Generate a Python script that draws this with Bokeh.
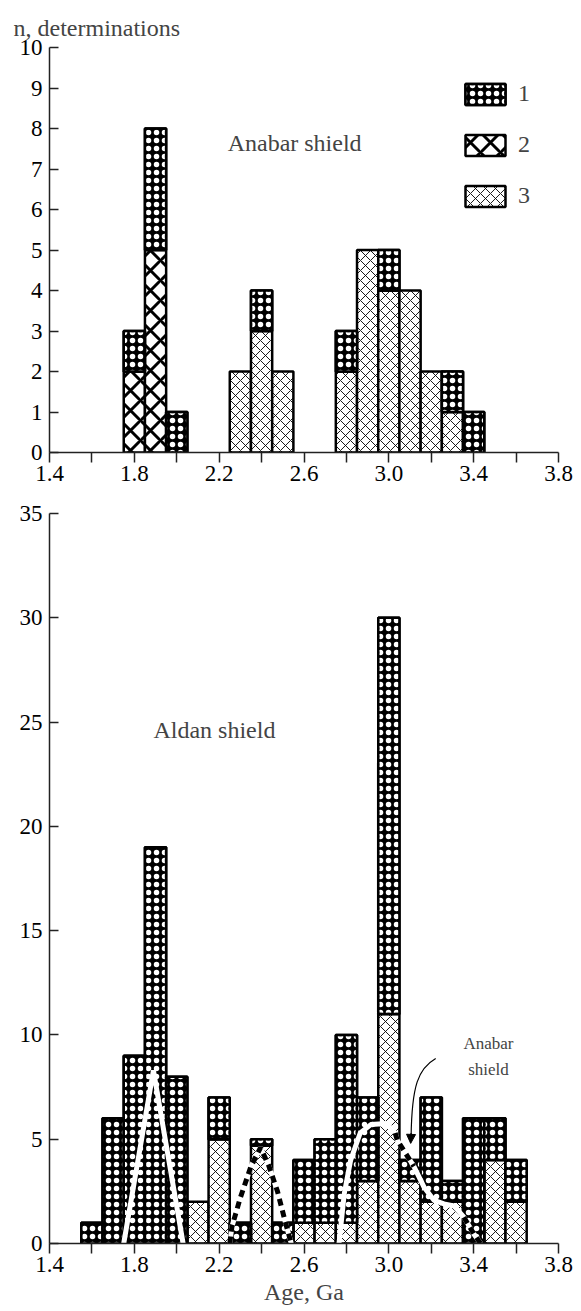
import numpy as np
from bokeh.plotting import figure
from bokeh.layouts import column
from bokeh.models import (Range1d, FixedTicker, PrintfTickFormatter, Label, Title,
                          Legend, LegendItem, Arrow, NormalHead)
from bokeh.embed import file_html
from bokeh.resources import INLINE

FONT = "Liberation Serif"
FS = "23px"

# ---------------- data ----------------
# Anabar shield (top panel)
anabar_age = [1.8, 1.9, 2.0, 2.3, 2.4, 2.5, 2.8, 2.9, 3.0, 3.1, 3.2, 3.3, 3.4]
anabar_t2 = [2, 5, 0, 0, 0, 0, 0, 0, 0, 0, 0, 0, 0]
anabar_t3 = [0, 0, 0, 2, 3, 2, 2, 5, 4, 4, 2, 1, 0]
anabar_t1 = [1, 3, 1, 0, 1, 0, 1, 0, 1, 0, 0, 1, 1]

# Aldan shield (bottom panel)
aldan_age = [1.6, 1.7, 1.8, 1.9, 2.0, 2.1, 2.2, 2.3, 2.4, 2.5, 2.6,
             2.7, 2.8, 2.9, 3.0, 3.1, 3.2, 3.3, 3.4, 3.5, 3.6]
aldan_t3 = [0, 0, 0, 0, 0, 2, 5, 0, 4.7, 0, 1, 1, 1, 3, 11, 3, 2, 2, 0, 4, 2]
aldan_t1 = [1, 6, 9, 19, 8, 0, 2, 1, 0.3, 1, 3, 4, 9, 4, 19, 1, 5, 1, 6, 2, 2]

# Anabar envelope curves drawn over the Aldan histogram
curve1_age = [1.75, 1.89, 2.03]
curve1_n = [0, 8.3, 0]
curve2_age = [2.25, 2.26, 2.30, 2.35, 2.395, 2.435, 2.475, 2.51, 2.54]
curve2_n = [0, 0.8, 2.2, 3.7, 4.6, 3.7, 2.5, 1.1, 0]
curve3_age = [2.765, 2.79, 2.82, 2.865, 2.915, 2.99, 3.03, 3.04, 3.118,
              3.166, 3.213, 3.26, 3.307, 3.354, 3.40, 3.433]
curve3_n = [0, 2.4, 4.0, 5.3, 5.7, 5.75, 5.3, 4.95, 3.7,
            2.7, 2.07, 1.9, 1.8, 1.26, 0.47, 0.0]
curve3_dash_a_age = [3.03, 3.04, 3.118]
curve3_dash_a_n = [5.3, 4.95, 3.7]
curve3_dash_b_age = [3.354, 3.40, 3.433]
curve3_dash_b_n = [1.26, 0.47, 0.0]

x_major = [1.4, 1.8, 2.2, 2.6, 3.0, 3.4, 3.8]
x_minor = [1.6, 2.0, 2.4, 2.8, 3.2, 3.6]
top_yticks = list(range(0, 11))
bot_yticks = list(range(0, 36, 5))

BAR_W = 0.1

STYLE1 = dict(fill_color="black", hatch_pattern="dot", hatch_color="white",
              hatch_scale=8, line_color="black", line_width=2.5)
STYLE1_RING = dict(fill_alpha=0, hatch_pattern="ring", hatch_color="white",
                   hatch_scale=8, hatch_weight=1.5, line_color="black", line_width=2.5)
STYLE2 = dict(fill_color="white", hatch_pattern="diagonal_cross", hatch_color="black",
              hatch_scale=20, hatch_weight=3, line_color="black", line_width=2.5)
STYLE3 = dict(fill_color="white", hatch_pattern="diagonal_cross", hatch_color="black",
              hatch_scale=10, hatch_weight=0.9, line_color="black", line_width=2.5)


def bars(p, ages, bottom, top, style):
    ages = np.asarray(ages, float)
    bottom = np.asarray(bottom, float)
    top = np.asarray(top, float)
    m = top > bottom
    return p.vbar(x=ages[m], bottom=bottom[m], top=top[m], width=BAR_W, **style)


def style_axes(p, yticks):
    p.xaxis.ticker = FixedTicker(ticks=x_major, minor_ticks=x_minor)
    p.yaxis.ticker = FixedTicker(ticks=yticks)
    p.xaxis.formatter = PrintfTickFormatter(format="%.1f")
    for ax in (p.xaxis, p.yaxis):
        ax.axis_line_color = "#222222"
        ax.axis_line_width = 1.5
        ax.major_tick_line_color = "#222222"
        ax.major_tick_line_width = 1.5
        ax.minor_tick_line_color = "#222222"
        ax.minor_tick_line_width = 1.5
        ax.major_label_text_font = FONT
        ax.major_label_text_font_size = FS
        ax.major_label_text_color = "black"
    p.xaxis.major_tick_in = 0
    p.xaxis.major_tick_out = 10
    p.xaxis.minor_tick_in = 0
    p.xaxis.minor_tick_out = 10
    p.xaxis.major_label_standoff = 3
    p.yaxis.major_tick_in = 9
    p.yaxis.major_tick_out = 0
    p.yaxis.minor_tick_in = 0
    p.yaxis.minor_tick_out = 0
    p.yaxis.major_label_standoff = 7
    p.xgrid.visible = False
    p.ygrid.visible = False
    p.outline_line_color = None


# ---------------- top panel ----------------
top = figure(width=581, height=496, output_backend="svg", toolbar_location=None,
             x_range=Range1d(1.4, 3.8), y_range=Range1d(0, 10),
             min_border_left=49, min_border_right=20, min_border_top=47,
             min_border_bottom=44)
style_axes(top, top_yticks)
top.add_layout(Title(text="n, determinations", align="left", offset=-36,
                     text_font=FONT, text_font_size="24px", text_font_style="normal",
                     standoff=14, vertical_align="bottom"), "above")

a2 = np.array(anabar_t2, float)
a3 = np.array(anabar_t3, float)
a1 = np.array(anabar_t1, float)
r2 = bars(top, anabar_age, np.zeros_like(a2), a2, STYLE2)
r3 = bars(top, anabar_age, a2, a2 + a3, STYLE3)
r1 = bars(top, anabar_age, a2 + a3, a2 + a3 + a1, STYLE1)
r1b = bars(top, anabar_age, a2 + a3, a2 + a3 + a1, STYLE1_RING)

top.add_layout(Label(x=2.24, y=7.65, text="Anabar shield", text_font=FONT,
                     text_font_size="24px", text_baseline="middle"))

legend = Legend(items=[LegendItem(label="1", renderers=[r1, r1b]),
                       LegendItem(label="2", renderers=[r2]),
                       LegendItem(label="3", renderers=[r3])],
                location=(411, 243), glyph_width=50, glyph_height=26,
                label_height=26, spacing=24, padding=0, margin=0,
                label_standoff=8, label_text_font=FONT, label_text_font_size="24px",
                border_line_color=None, background_fill_alpha=0)
top.add_layout(legend)

# ---------------- bottom panel ----------------
bot = figure(width=581, height=815, output_backend="svg", toolbar_location=None,
             x_range=Range1d(1.4, 3.8), y_range=Range1d(0, 35),
             min_border_left=49, min_border_right=23, min_border_top=17,
             min_border_bottom=68)
style_axes(bot, bot_yticks)
bot.xaxis.axis_label = "Age, Ga"
bot.xaxis.axis_label_text_font = FONT
bot.xaxis.axis_label_text_font_size = "24px"
bot.xaxis.axis_label_text_font_style = "normal"
bot.xaxis.axis_label_standoff = 4

b3 = np.array(aldan_t3, float)
b1 = np.array(aldan_t1, float)
bars(bot, aldan_age, np.zeros_like(b3), b3, STYLE3)
bars(bot, aldan_age, b3, b3 + b1, STYLE1)
bars(bot, aldan_age, b3, b3 + b1, STYLE1_RING)

# envelope lines
bot.line(curve1_age, curve1_n, line_color="white", line_width=5)
bot.line(curve2_age, curve2_n, line_color="white", line_width=5)
bot.line(curve2_age, curve2_n, line_color="black", line_width=5, line_dash="7 5")
bot.line(curve3_age, curve3_n, line_color="white", line_width=5)
bot.line(curve3_dash_a_age, curve3_dash_a_n, line_color="black", line_width=5, line_dash="7 5")
bot.line(curve3_dash_b_age, curve3_dash_b_n, line_color="black", line_width=5, line_dash="7 5")

bot.add_layout(Label(x=1.89, y=24.6, text="Aldan shield", text_font=FONT,
                     text_font_size="24px", text_baseline="alphabetic"))
bot.add_layout(Label(x=3.47, y=9.6, text="Anabar", text_font=FONT,
                     text_font_size="17px", text_align="center", text_baseline="middle"))
bot.add_layout(Label(x=3.47, y=8.35, text="shield", text_font=FONT,
                     text_font_size="17px", text_align="center", text_baseline="middle"))
bot.bezier(x0=[3.221], y0=[8.87], x1=[3.105], y1=[5.1], cx0=[3.14], cy0=[8.4],
           cx1=[3.108], cy1=[7.6], line_color="black", line_width=1.2)
bot.add_layout(Arrow(end=NormalHead(size=9, fill_color="black", line_color="black"),
                     x_start=3.105, y_start=5.3, x_end=3.103, y_end=4.8,
                     line_color="black", line_width=1.2))

layout = column(top, bot, spacing=0)
open("out.html", "w").write(file_html(layout, INLINE))
